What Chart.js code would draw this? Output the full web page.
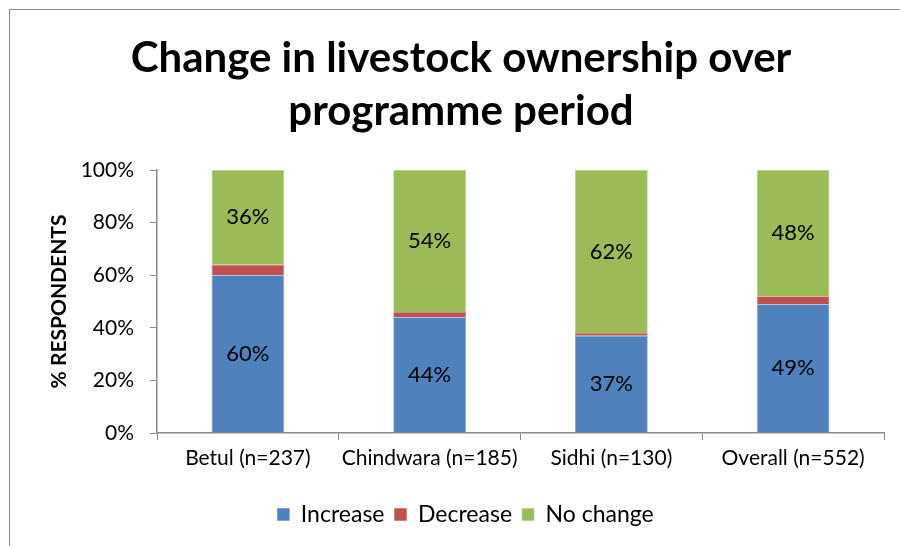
<!DOCTYPE html>
<html>
<head>
<meta charset="utf-8">
<script src="https://cdn.jsdelivr.net/npm/chart.js@4"></script>
<style>
html,body{margin:0;padding:0;background:#fff;}
#wrap{position:relative;width:900px;height:546px;overflow:hidden;}
#frame{position:absolute;left:9px;top:9px;width:1000px;height:1000px;border-left:1.5px solid #8a8a8a;border-top:1.5px solid #8a8a8a;pointer-events:none;}
canvas{position:absolute;left:0;top:0;}
</style>
</head>
<body>
<div id="wrap">
<canvas id="c" width="900" height="546"></canvas>
<div id="frame"></div>
</div>
<script>
const categories = ['Betul (n=237)', 'Chindwara (n=185)', 'Sidhi (n=130)', 'Overall (n=552)'];
const increase = [60, 44, 37, 49];
const decrease = [4, 2, 1, 3];
const noChange = [36, 54, 62, 48];
const seriesNames = ['Increase', 'Decrease', 'No change'];
const yTicks = [0, 20, 40, 60, 80, 100];
const titleLines = ['Change in livestock ownership over', 'programme period'];
const yTitle = '% RESPONDENTS';

const FONT = 'Lato, "Open Sans", sans-serif';

const titlePlugin = {
  id: 'customTitle',
  afterDraw(chart) {
    const ctx = chart.ctx;
    ctx.save();
    ctx.fillStyle = '#000';
    ctx.font = 'bold 42px ' + FONT;
    ctx.textAlign = 'center';
    ctx.textBaseline = 'middle';
    ctx.fillText(titleLines[0], 461, 58);
    ctx.fillText(titleLines[1], 461, 111);
    ctx.restore();
  }
};

const labelPlugin = {
  id: 'segLabels',
  afterDatasetsDraw(chart) {
    const ctx = chart.ctx;
    ctx.save();
    ctx.fillStyle = '#000';
    ctx.font = '22px ' + FONT;
    ctx.textAlign = 'center';
    ctx.textBaseline = 'middle';
    [0, 2].forEach(di => {
      const meta = chart.getDatasetMeta(di);
      meta.data.forEach((bar, i) => {
        const v = chart.data.datasets[di].data[i];
        const yc = (bar.y + bar.base) / 2;
        ctx.fillText(v + '%', bar.x, yc);
      });
    });
    ctx.restore();
  }
};

new Chart(document.getElementById('c'), {
  type: 'bar',
  data: {
    labels: categories,
    datasets: [
      { label: seriesNames[0], data: increase, backgroundColor: '#4F81BD', borderColor: '#7a9fcf', borderWidth: 0.8 },
      { label: seriesNames[1], data: decrease, backgroundColor: '#C0504D', borderColor: '#d07c79', borderWidth: 0.8 },
      { label: seriesNames[2], data: noChange, backgroundColor: '#9BBB59', borderColor: '#b6cf85', borderWidth: 0.8 }
    ]
  },
  options: {
    responsive: false,
    animation: false,
    devicePixelRatio: 1,
    layout: { padding: { left: 47, right: 16, top: 170, bottom: 10 } },
    datasets: { bar: { categoryPercentage: 0.8, barPercentage: 0.5 } },
    plugins: {
      title: { display: false },
      tooltip: { enabled: false },
      legend: {
        position: 'bottom',
        labels: {
          color: '#000',
          font: { family: FONT, size: 23 },
          boxWidth: 12,
          boxHeight: 12,
          padding: 10,
          useBorderRadius: false
        },
        onClick: null
      }
    },
    scales: {
      x: {
        stacked: true,
        grid: { display: true, drawOnChartArea: false, drawTicks: true, tickLength: 7, color: '#8a8a8a', offset: true },
        border: { display: true, color: '#8a8a8a', width: 1.5 },
        ticks: { color: '#000', font: { family: FONT, size: 21 }, padding: 6, maxRotation: 0 },
        afterFit(s) { s.height = 60; }
      },
      y: {
        stacked: true,
        min: 0,
        max: 100,
        afterBuildTicks(s) { s.ticks = yTicks.map(v => ({ value: v })); },
        grid: { display: true, drawOnChartArea: false, drawTicks: true, tickLength: 7, color: '#8a8a8a' },
        border: { display: true, color: '#8a8a8a', width: 1.5 },
        ticks: { color: '#000', font: { family: FONT, size: 21 }, padding: 16, callback: v => v + '%' },
        title: { display: true, text: yTitle, color: '#000', font: { family: FONT, size: 21, weight: 'bold' }, padding: 0 },
        afterFit(s) { s.width = 157 - 47; }
      }
    }
  },
  plugins: [titlePlugin, labelPlugin]
});
</script>
</body>
</html>
